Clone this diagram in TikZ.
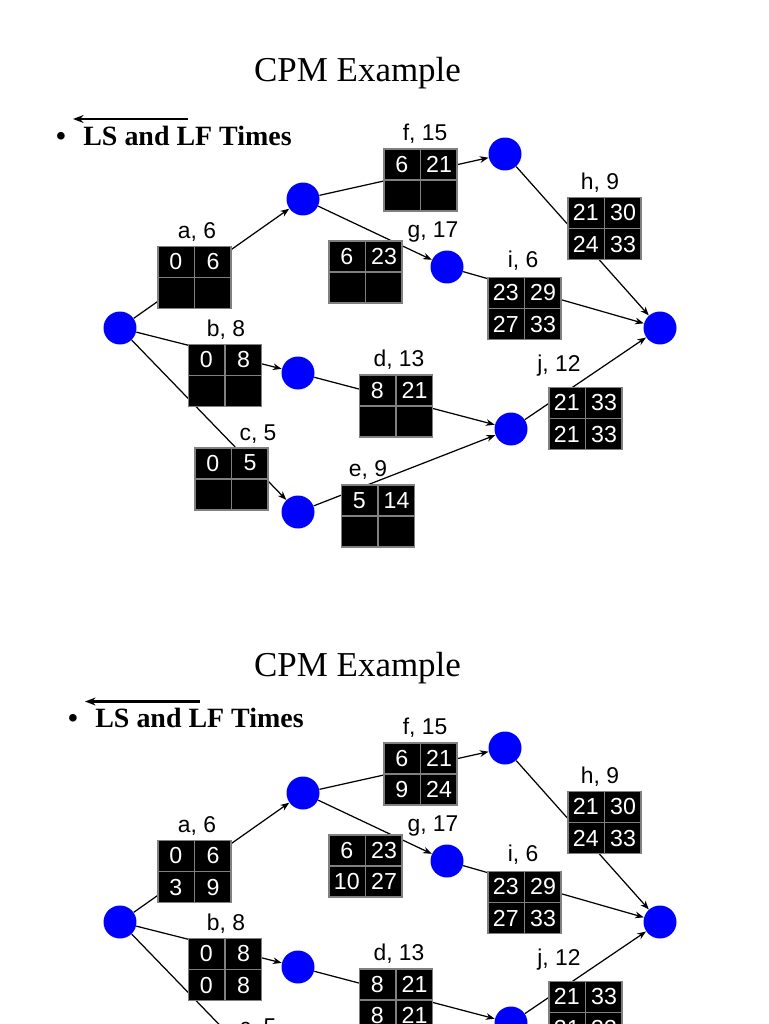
\documentclass[tikz,border=0pt]{standalone}
\usepackage{fontspec}
\setmainfont{Liberation Serif}
\setsansfont{Liberation Sans}
\usetikzlibrary{arrows.meta,calc}
\definecolor{cpmblue}{RGB}{0,0,255}
\definecolor{cpmgrid}{RGB}{128,128,128}

% late times are only filled in on the second slide
\newcommand{\late}[1]{\ifnum\slideno=1 #1\fi}

% activity box: name, centre, ES, EF, LS, LF
\newcommand{\actbox}[6]{%
  \node[actbox] (#1) at #2 {};
  \draw[cpmgrid, line width=0.85pt] (#1.north) -- (#1.south) (#1.west) -- (#1.east);
  \node[celltext] (#1es) at ($(#1.north west)!0.5!(#1.center)$) {#3};
  \node[celltext] (#1ef) at ($(#1.north east)!0.5!(#1.center)$) {#4};
  \node[celltext] (#1ls) at ($(#1.south west)!0.5!(#1.center)$) {#5};
  \node[celltext] (#1lf) at ($(#1.south east)!0.5!(#1.center)$) {#6};
}

\begin{document}
\begin{tikzpicture}[x=0.02cm, y=-0.02cm,
    evnode/.style={circle, fill=cpmblue, minimum size=0.66cm, inner sep=0pt},
    actbox/.style={rectangle, fill=black, draw=cpmgrid, line width=0.85pt,
                   minimum width=1.46cm, minimum height=1.24cm, inner sep=0pt},
    celltext/.style={font=\sffamily\fontsize{13.2}{15}\selectfont, text=white, inner sep=0pt},
    actlabel/.style={font=\sffamily\fontsize{13}{15}\selectfont, anchor=base, inner sep=0pt},
    actline/.style={-{Stealth[length=5pt,width=3.8pt]}, line width=0.7pt},
    heading/.style={font=\fontsize{19.9}{23}\selectfont, anchor=base, inner sep=0pt},
    pointtext/.style={font=\fontsize{15.9}{19}\selectfont\bfseries, anchor=base west, inner sep=0pt}
  ]
  \useasboundingbox (0,0) rectangle (768,1024);
  \clip (0,0) rectangle (768,1024);

  \foreach \slideno in {0,1} {
  \begin{scope}[shift={(0,\slideno*594)}]
    % Title and bullet
    \node[heading] (title) at (357.5,82) {CPM Example};
    \begin{scope}[shift={(\slideno*12,-\slideno*11.5)}]
      \node[pointtext, anchor=base] (dot) at (61,145) {\textbullet};
      \node[pointtext] (point) at (83,145) {LS and LF Times};
      \coordinate (backs) at (188,119);
      \coordinate (backe) at (73,119);
      \draw[-{Stealth[length=6pt,width=4.5pt]}, line width=1.7pt] (backs) -- (backe);
    \end{scope}

    % Events
    \node[evnode] (n1) at (120,328) {};
    \node[evnode] (n2) at (303,199) {};
    \node[evnode] (n3) at (505,154) {};
    \node[evnode] (n4) at (447,267) {};
    \node[evnode] (n5) at (660,328) {};
    \node[evnode] (n6) at (298,373) {};
    \node[evnode] (n7) at (298,512) {};
    \node[evnode] (n8) at (511,429) {};

    % Activities
    \draw[actline] (n1) -- (n2); % a
    \draw[actline] (n1) -- (n6); % b
    \draw[actline] (n1) -- (n7); % c
    \draw[actline] (n6) -- (n8); % d
    \draw[actline] (n7) -- (n8); % e
    \draw[actline] (n2) -- (n3); % f
    \draw[actline] (n2) -- (n4); % g
    \draw[actline] (n3) -- (n5); % h
    \draw[actline] (n4) -- (n5); % i
    \draw[actline] (n8) -- (n5); % j

    % Time boxes
    \actbox{boxa}{(194.5,277.5)}{0}{6}{\late{3}}{\late{9}}
    \actbox{boxb}{(225,375.5)}{0}{8}{\late{0}}{\late{8}}
    \actbox{boxc}{(231.5,479)}{0}{5}{\late{7}}{\late{12}}
    \actbox{boxd}{(396,406)}{8}{21}{\late{8}}{\late{21}}
    \actbox{boxe}{(378,516)}{5}{14}{\late{12}}{\late{21}}
    \actbox{boxf}{(420.5,180)}{6}{21}{\late{9}}{\late{24}}
    \actbox{boxg}{(365.5,272)}{6}{23}{\late{10}}{\late{27}}
    \actbox{boxh}{(604.5,228.5)}{21}{30}{24}{33}
    \actbox{boxi}{(524.5,308.5)}{23}{29}{27}{33}
    \actbox{boxj}{(585.5,418.5)}{21}{33}{21}{33}

    % Activity labels
    \node[actlabel] (la) at (197,238.5) {a, 6};
    \node[actlabel] (lb) at (226,336) {b, 8};
    \node[actlabel] (lc) at (258,440) {c, 5};
    \node[actlabel] (ld) at (399,366) {d, 13};
    \node[actlabel] (le) at (368,476.5) {e, 9};
    \node[actlabel] (lf) at (425,140.5) {f, 15};
    \node[actlabel] (lg) at (433,237) {g, 17};
    \node[actlabel] (lh) at (600,189) {h, 9};
    \node[actlabel] (li) at (523,267) {i, 6};
    \node[actlabel] (lj) at (559,371.5) {j, 12};
  \end{scope}
  }
\end{tikzpicture}
\end{document}
